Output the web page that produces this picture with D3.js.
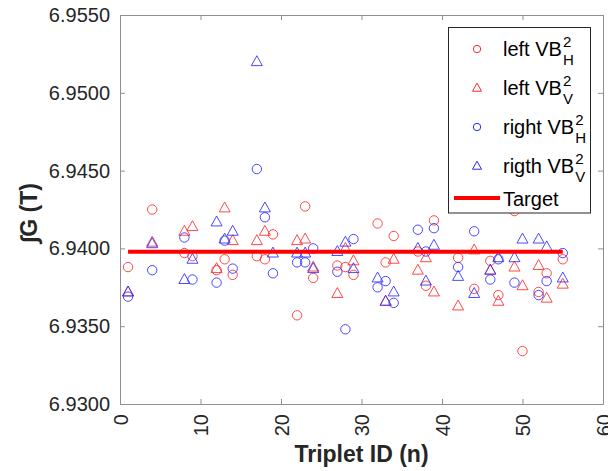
<!DOCTYPE html>
<html><head><meta charset="utf-8">
<script src="https://cdn.jsdelivr.net/npm/d3@7"></script>
<style>
html,body{margin:0;padding:0;background:#fff;}
svg{display:block;font-family:"Liberation Sans",Arial,Helvetica,sans-serif;}
</style></head>
<body><svg id="chart" width="608" height="471"></svg>
<script>
const ids = [1,4,8,9,12,13,14,17,18,19,22,23,24,27,28,29,32,33,34,37,38,39,42,44,46,47,49,50,52,53,55];
const leftH = [6.9388,6.9425,6.9397,6.9395,6.9386,6.9393,6.9383,6.9395,6.9393,6.9409,6.9357,6.9427,6.9381,6.9389,6.9388,6.9383,6.9416,6.9391,6.9408,6.9398,6.9376,6.9418,6.9394,6.9374,6.9392,6.9370,6.9424,6.9334,6.9372,6.9384,6.9393];
const leftV = [6.9372,6.9404,6.9411,6.9414,6.9387,6.9426,6.9405,6.9405,6.9411,null,6.9405,6.9406,6.9388,6.9371,6.9400,6.9392,null,6.9366,6.9393,6.9386,6.9394,6.9372,6.9363,6.9399,6.9386,6.9366,6.9388,6.9376,6.9389,6.9368,6.9377];
const rightH = [6.9369,6.9386,6.9407,6.9380,6.9378,6.9405,6.9387,6.9451,6.9420,6.9384,6.9391,6.9391,6.9400,6.9385,6.9348,6.9406,6.9375,6.9379,6.9365,6.9412,6.9398,6.9413,6.9388,6.9411,6.9380,6.9393,6.9378,null,6.9370,6.9379,6.9397];
const rightV = [6.9372,6.9403,6.9380,6.9393,6.9417,6.9406,6.9411,6.9520,6.9426,6.9397,6.9397,6.9397,6.9387,6.9398,6.9404,6.9387,6.9381,6.9366,6.9372,6.9400,6.9379,6.9402,6.9382,6.9371,6.9386,6.9394,6.9394,6.9406,6.9406,6.9401,6.9381];
const targetX = [1, 55];
const targetY = [6.93978, 6.93978];
const xTicks = [0,10,20,30,40,50,60];
const yTicks = [6.930,6.935,6.940,6.945,6.950,6.955];
const seriesNames = ["left VB","left VB","right VB","rigth VB"];
const seriesSub = ["H","V","H","V"];
const targetName = "Target";

const RED = "#ff2a2a", BLUE = "#2a2aff", AX = "#8f8f8f", TXT = "#262626";
const svg = d3.select("#chart");
const L=120, R=603, T=15, B=404;
const x = d3.scaleLinear().domain([0,60]).range([L,R]);
const y = d3.scaleLinear().domain([6.930,6.955]).range([B,T]);

// axes
const gx = svg.append("g").attr("transform",`translate(0,${B})`)
  .call(d3.axisBottom(x).tickValues(xTicks).tickSizeInner(-5).tickSizeOuter(0).tickFormat(d3.format("d")));
gx.selectAll(".tick text").attr("transform","rotate(-90)").attr("text-anchor","end")
  .attr("x",-10).attr("y",0).attr("dy","0.36em");
const gxt = svg.append("g").attr("transform",`translate(0,${T})`)
  .call(d3.axisTop(x).tickValues(xTicks).tickSizeInner(-5).tickSizeOuter(0).tickFormat(""));
const gy = svg.append("g").attr("transform",`translate(${L},0)`)
  .call(d3.axisLeft(y).tickValues(yTicks).tickSizeInner(-5).tickSizeOuter(0).tickFormat(d3.format(".4f")).tickPadding(10));
const gyr = svg.append("g").attr("transform",`translate(${R},0)`)
  .call(d3.axisRight(y).tickValues(yTicks).tickSizeInner(-5).tickSizeOuter(0).tickFormat(""));
[gx,gxt,gy,gyr].forEach(g=>{
  g.selectAll("path.domain").attr("stroke",AX).attr("stroke-width",1);
  g.selectAll(".tick line").attr("stroke",AX);
  g.selectAll(".tick text").attr("fill",TXT).attr("font-size",20).attr("font-family","Liberation Sans, Arial, sans-serif");
});

// axis titles
svg.append("text").attr("x",(L+R)/2).attr("y",462).attr("text-anchor","middle")
  .attr("font-weight","bold").attr("font-size",23).attr("fill",TXT).text("Triplet ID (n)");
svg.append("text").attr("transform",`translate(37,213) rotate(-90)`).attr("text-anchor","middle")
  .attr("font-weight","bold").attr("font-size",23).attr("fill",TXT).text("∫G (T)");

const circ = d3.symbol().type(d3.symbolCircle).size(Math.PI*4.7*4.7);
const tri = (s)=>{ // triangle pointing up of width s
  const h = s*0.9;
  return `M0,${-h*0.6}L${s/2},${h*0.4}L${-s/2},${h*0.4}Z`;
};
const series = [
  {vals:leftH, color:RED, shape:"c"},
  {vals:leftV, color:RED, shape:"t"},
  {vals:rightH, color:BLUE, shape:"c"},
  {vals:rightV, color:BLUE, shape:"t"}
];
const plot = svg.append("g");
series.forEach(s=>{
  const pts = ids.map((id,i)=>({id, v:s.vals[i]})).filter(d=>d.v!==null);
  plot.append("g").selectAll("path").data(pts).join("path")
    .attr("transform",d=>`translate(${x(d.id)},${y(d.v)})`)
    .attr("d", s.shape==="c" ? circ() : tri(11))
    .attr("fill","none").attr("stroke",s.color).attr("stroke-width",1).attr("stroke-opacity",0.85);
});
// target line
const tline = d3.line().x(d=>x(d[0])).y(d=>y(d[1]));
plot.append("path").datum(targetX.map((t,i)=>[t,targetY[i]])).attr("d",tline)
  .attr("stroke","#ff0000").attr("stroke-width",4).attr("fill","none");

// legend
const lg = svg.append("g");
lg.append("rect").attr("x",448.5).attr("y",27.5).attr("width",142).attr("height",185.5)
  .attr("fill","#fff").attr("stroke","#262626").attr("stroke-width",1);
const rowsY = [49,88,127,166];
const symSmall = d3.symbol().type(d3.symbolCircle).size(Math.PI*3.7*3.7);
series.forEach((s,i)=>{
  const cy = rowsY[i];
  lg.append("path").attr("transform",`translate(477,${cy})`)
    .attr("d", s.shape==="c" ? symSmall() : tri(9))
    .attr("fill","none").attr("stroke",s.color).attr("stroke-width",1);
  const t = lg.append("text").attr("x",503).attr("y",cy+7).attr("font-size",20).attr("fill","#000").text(seriesNames[i]);
  const w = t.node().getComputedTextLength();
  lg.append("text").attr("x",503+w+1).attr("y",cy-2).attr("font-size",15).attr("fill","#000").text("2");
  lg.append("text").attr("x",503+w+1).attr("y",cy+16).attr("font-size",15).attr("fill","#000").text(seriesSub[i]);
});
lg.append("line").attr("x1",454).attr("x2",500).attr("y1",198).attr("y2",198)
  .attr("stroke","#ff0000").attr("stroke-width",4);
lg.append("text").attr("x",503).attr("y",206).attr("font-size",20).attr("fill","#000").text(targetName);
</script></body></html>
